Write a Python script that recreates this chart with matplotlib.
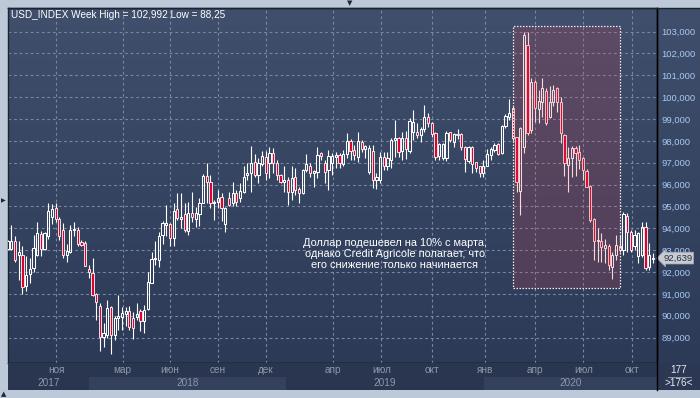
import numpy as np
import matplotlib
matplotlib.use('Agg')
import matplotlib.pyplot as plt
from matplotlib.colors import LinearSegmentedColormap
from matplotlib.patches import Rectangle
from matplotlib.lines import Line2D
import matplotlib.transforms as mtransforms

# weekly USD index candles (open, high, low, close)
opens = [93.05, 93.04, 93.44, 92.80, 92.80, 91.35, 91.90, 92.17, 92.80, 93.75,
         93.04, 93.67, 94.50, 94.92, 94.43, 93.93, 92.80, 92.90, 93.92, 93.93,
         93.36, 93.32, 92.15, 91.95, 90.98, 90.45, 89.05, 89.10, 90.42, 89.10,
         89.90, 89.96, 90.07, 90.22, 89.90, 89.93, 90.22, 89.74, 90.30, 91.52,
         92.58, 92.56, 93.70, 94.17, 94.19, 93.58, 94.87, 94.45, 94.65, 93.90,
         94.72, 94.42, 94.64, 95.18, 96.40, 96.14, 95.15, 95.20, 95.42, 94.20,
         95.38, 95.18, 95.60, 95.38, 95.64, 96.45, 96.52, 97.05, 96.45, 96.95,
         97.28, 97.00, 97.44, 96.98, 96.45, 96.10, 96.22, 95.68, 96.34, 95.79,
         95.60, 96.67, 96.86, 96.55, 96.60, 97.43, 97.00, 96.67, 97.00, 97.25,
         97.36, 96.95, 97.40, 98.01, 97.59, 97.28, 97.97, 97.62, 96.60, 97.54,
         96.22, 96.22, 97.28, 96.83, 97.13, 98.02, 98.12, 97.54, 98.12, 97.54,
         98.43, 98.43, 98.27, 98.55, 99.11, 98.81, 98.35, 97.31, 97.22, 97.24,
         98.40, 97.97, 98.30, 98.30, 97.70, 97.10, 97.73, 97.03, 96.83, 96.52,
         96.86, 97.36, 97.60, 97.85, 97.44, 98.69, 99.10, 99.49, 98.20, 95.72,
         97.74, 102.39, 98.50, 100.70, 99.45, 99.80, 100.30, 99.11, 99.80, 100.41,
         99.80, 98.27, 96.90, 97.20, 97.66, 97.47, 97.20, 96.64, 95.94, 94.43,
         93.40, 93.40, 93.10, 93.17, 92.25, 92.80, 93.17, 93.02, 94.58, 93.85,
         93.17, 92.74, 92.78, 94.04, 92.22, 92.60]
highs = [93.45, 94.16, 93.66, 93.40, 93.20, 92.74, 92.63, 93.70, 94.28, 93.90,
         93.82, 95.15, 95.10, 95.15, 94.50, 94.23, 93.30, 94.16, 94.27, 94.08,
         93.47, 93.40, 92.33, 92.63, 91.03, 90.60, 89.66, 90.73, 90.45, 89.97,
         90.95, 90.42, 90.42, 90.47, 90.19, 90.57, 90.30, 90.50, 91.99, 92.90,
         93.44, 93.82, 94.34, 95.07, 94.23, 95.18, 95.60, 95.60, 95.15, 95.22,
         95.65, 94.99, 95.38, 96.49, 96.98, 96.45, 95.30, 95.76, 95.60, 94.99,
         95.68, 96.14, 95.76, 96.06, 96.86, 97.00, 97.77, 97.40, 97.20, 97.56,
         97.56, 97.74, 97.67, 97.13, 96.50, 96.86, 96.37, 96.83, 96.75, 95.90,
         96.72, 97.40, 97.00, 96.67, 97.74, 97.50, 97.13, 97.59, 97.43, 97.51,
         97.43, 97.59, 98.38, 98.07, 97.82, 98.43, 98.05, 97.82, 97.82, 97.82,
         96.55, 97.51, 97.51, 97.51, 98.12, 98.96, 98.20, 98.43, 98.46, 99.04,
         99.42, 98.81, 98.63, 99.65, 99.27, 98.88, 98.43, 97.92, 97.92, 98.45,
         98.43, 98.35, 98.53, 98.35, 97.77, 97.77, 97.77, 97.05, 96.85, 97.13,
         97.62, 97.70, 97.90, 97.90, 98.73, 99.22, 99.90, 99.60, 98.20, 98.65,
         102.99, 102.99, 100.87, 100.79, 100.33, 100.90, 100.41, 100.49, 100.56, 100.46,
         100.00, 98.30, 97.74, 97.77, 97.77, 97.81, 97.28, 96.70, 95.98, 94.48,
         94.01, 93.78, 93.50, 93.30, 92.94, 93.70, 93.70, 94.77, 94.69, 93.93,
         93.93, 93.85, 94.31, 94.31, 93.32, 92.86]
lows = [93.00, 93.00, 92.48, 91.64, 91.00, 91.14, 91.52, 92.02, 92.74, 92.74,
        93.01, 93.50, 94.20, 94.28, 93.47, 92.63, 92.48, 92.85, 93.65, 93.17,
        93.17, 92.26, 91.75, 90.90, 89.80, 88.41, 88.55, 88.97, 88.25, 88.87,
        89.36, 89.35, 89.55, 89.35, 88.93, 89.81, 89.31, 89.20, 90.27, 91.49,
        92.33, 92.22, 93.27, 93.65, 93.17, 93.17, 94.39, 94.00, 93.85, 93.70,
        94.31, 94.05, 94.13, 95.15, 95.15, 94.92, 94.40, 94.95, 94.34, 93.85,
        95.00, 95.03, 95.00, 95.22, 95.60, 96.22, 95.68, 96.37, 96.06, 96.83,
        96.20, 96.29, 96.52, 96.22, 96.06, 95.68, 95.07, 95.30, 95.53, 95.15,
        95.57, 96.60, 96.37, 95.91, 96.30, 97.13, 96.06, 95.76, 96.44, 96.75,
        96.75, 96.83, 97.20, 97.13, 97.13, 97.05, 97.51, 97.20, 96.50, 95.84,
        95.80, 96.06, 96.67, 96.67, 96.75, 97.28, 97.28, 97.13, 97.16, 97.44,
        98.05, 98.12, 97.97, 98.43, 98.63, 98.20, 97.13, 97.13, 97.13, 97.10,
        97.97, 97.70, 98.07, 97.60, 96.60, 96.98, 96.55, 96.60, 96.37, 96.37,
        96.83, 97.13, 97.50, 97.36, 97.41, 98.58, 98.96, 98.00, 95.68, 94.61,
        97.44, 98.28, 98.35, 98.88, 98.84, 99.11, 98.73, 99.04, 99.60, 99.34,
        97.92, 96.40, 95.68, 96.34, 96.40, 96.70, 96.22, 95.88, 94.31, 92.55,
        92.48, 92.48, 92.40, 92.10, 91.70, 92.56, 92.94, 92.80, 92.94, 92.94,
        93.02, 92.40, 92.71, 92.10, 92.10, 92.40]
closes = [93.40, 93.44, 92.56, 92.90, 91.30, 91.87, 92.13, 93.09, 93.80, 93.04,
          93.77, 94.81, 94.90, 94.43, 93.67, 92.76, 92.95, 93.93, 93.97, 93.29,
          93.24, 92.30, 92.02, 90.95, 90.65, 89.02, 89.20, 90.34, 89.10, 89.92,
          90.00, 90.12, 90.22, 89.47, 89.43, 90.08, 89.74, 90.27, 91.54, 92.60,
          92.65, 93.65, 94.23, 94.23, 93.55, 94.80, 94.49, 94.52, 93.93, 94.69,
          94.54, 94.72, 95.18, 96.40, 96.11, 95.15, 95.22, 95.38, 94.92, 94.95,
          95.07, 95.60, 95.22, 95.71, 96.37, 96.55, 96.98, 96.45, 96.98, 97.31,
          96.52, 97.44, 96.98, 96.45, 96.10, 96.22, 95.68, 96.29, 95.76, 95.60,
          96.67, 96.93, 96.52, 96.62, 97.36, 97.31, 96.60, 97.31, 97.33, 97.35,
          96.98, 97.40, 98.01, 97.54, 97.36, 98.01, 97.62, 97.75, 97.66, 96.22,
          96.35, 97.28, 96.83, 97.20, 98.05, 98.12, 97.47, 98.12, 97.62, 98.93,
          98.88, 98.27, 98.53, 99.11, 98.81, 98.30, 97.28, 97.86, 97.85, 98.38,
          98.05, 98.30, 98.28, 97.70, 97.16, 97.74, 96.95, 96.75, 96.52, 96.86,
          97.39, 97.63, 97.82, 97.39, 98.70, 99.14, 99.26, 98.12, 96.10, 98.58,
          102.85, 98.35, 100.70, 99.50, 99.84, 100.41, 98.81, 99.80, 100.33, 99.80,
          98.35, 96.98, 97.20, 97.66, 97.44, 97.13, 96.67, 95.91, 94.39, 93.40,
          93.47, 93.13, 93.22, 92.33, 92.80, 93.24, 93.02, 94.66, 93.85, 93.02,
          93.70, 93.78, 94.08, 92.17, 92.78, 92.639]

# time axis: month ticks (bar positions), year starts
month_labels = ['ноя', 'мар', 'июн', 'сен', 'дек', 'апр', 'июл', 'окт',
                'янв', 'апр', 'июл', 'окт']
month_pos = [13.1, 31.2, 44.0, 57.0, 70.1, 88.1, 101.3, 115.0,
             129.4, 143.0, 156.1, 169.3]
year_labels = ['2017', '2018', '2019', '2020']
year_start = [-0.1, 22.1, 75.6, 129.1]

price_ticks = list(range(89, 104))
last_price = 92.639

W, H = 700, 398


def px(l, t, r, b):
    return [l / W, 1 - b / H, (r - l) / W, (b - t) / H]


fig = plt.figure(figsize=(7, 3.98), dpi=100, facecolor='#bdc9d9')

grad = LinearSegmentedColormap.from_list('bg', ['#3f4f6c', '#2c3a57'])
gimg = np.linspace(0, 1, 256).reshape(-1, 1)

# right price panel
rax = fig.add_axes(px(657, 8, 700, 363), zorder=0)
rax.imshow(gimg, cmap=grad, extent=[0, 1, 0, 1], aspect='auto')
rax.set_xlim(0, 1)
rax.set_ylim(0, 1)
rax.axis('off')

# main chart
ax = fig.add_axes(px(8, 8, 657, 363), zorder=1)
ax.imshow(gimg, cmap=grad, extent=[0, 1, 0, 1], aspect='auto',
          transform=ax.transAxes, zorder=0)

x = np.arange(len(opens))
o = np.array(opens)
c = np.array(closes)
hi = np.maximum(np.array(highs), np.maximum(o, c))
lo = np.minimum(np.array(lows), np.minimum(o, c))
top = np.maximum(o, c)
bot = np.minimum(o, c)
up = c >= o

ax.vlines(x, top, hi, color='white', lw=0.8, zorder=3)
ax.vlines(x, lo, bot, color='white', lw=0.8, zorder=3)
body = np.maximum(top - bot, 0.05)
ax.bar(x[up], body[up], bottom=bot[up], width=0.6, color='none',
       edgecolor='white', linewidth=0.75, zorder=4)
ax.bar(x[~up], body[~up], bottom=bot[~up], width=0.6, color='#e0002c',
       edgecolor='white', linewidth=0.6, zorder=4)

# highlighted region
ax.add_patch(Rectangle((137, 91.27), 29, 11.99, facecolor=(0.85, 0.25, 0.3, 0.2),
                       edgecolor='#f2e8ee', linestyle=(0, (1.2, 1.2)), lw=0.9, zorder=5))

ax.set_xlim(0.08, 176.1)
ax.set_ylim(87.84, 104.08)

ax.set_yticks(price_ticks)
ax.set_yticklabels([f'{v:.3f}'.replace('.', ',') for v in price_ticks])
ax.yaxis.tick_right()
ax.tick_params(axis='y', length=0, pad=3, labelsize=6.8, labelcolor='#a9c9f2')
ax.set_xticks(month_pos)
ax.tick_params(axis='x', length=0, labelbottom=False)
ax.grid(True, color='#7886a2', lw=0.8, linestyle=(0, (2.5, 2.5)), zorder=1)
for s in ['top', 'left']:
    ax.spines[s].set_color('#1c2230')
for s in ['bottom', 'right']:
    ax.spines[s].set_color('black')
for s in ax.spines.values():
    s.set_linewidth(1.0)
for t in ax.get_yticklabels():
    t.set_family('Liberation Sans')

ax.text(3 / 649, 1 - 7 / 355, 'USD_INDEX Week High = 102,992 Low = 88,25',
        transform=ax.transAxes, ha='left', va='center', color='white',
        fontsize=7.2, family='Liberation Sans', zorder=6)

ax.text(105, 92.83, 'Доллар подешевел на 10% с марта,\n'
        'однако Credit Agricole полагает, что\n'
        'его снижение только начинается',
        ha='center', va='center', multialignment='center', color='white',
        fontsize=7.9, family='Liberation Sans', linespacing=1.12, zorder=6)

# last price tag
tr = mtransforms.blended_transform_factory(ax.transAxes, ax.transData)
ax.text(1 + 6 / 649, last_price, f'{last_price:.3f}'.replace('.', ','),
        transform=tr, ha='left', va='center', fontsize=6.8, color='#27303f',
        family='Liberation Sans', clip_on=False, zorder=7,
        bbox=dict(boxstyle='larrow,pad=0.15', fc='#c8ccd2', ec='#9aa0aa', lw=0.5))

# time axis
tax = fig.add_axes(px(8, 363, 657, 390), zorder=1)
tax.set_facecolor('#2a3550')
tax.set_xlim(ax.get_xlim())
tax.set_ylim(0, 1)
ends = year_start[1:] + [ax.get_xlim()[1]]
for i, (a, b) in enumerate(zip(year_start, ends)):
    if i % 2 == 1:
        tax.axvspan(a, b, ymin=0, ymax=0.5, color='#34415c', lw=0)
    tax.text((max(a, ax.get_xlim()[0]) + b) / 2, 0.26, year_labels[i],
             ha='center', va='center', color='#8c98ac', fontsize=7.2,
             family='Liberation Sans')
for m, p in zip(month_labels, month_pos):
    tax.text(p, 0.73, m, ha='center', va='center', color='#8c98ac',
             fontsize=7.2, family='Liberation Sans')
tax.set_xticks([])
tax.set_yticks([])
for s in tax.spines.values():
    s.set_visible(False)

# bar counter box
cax = fig.add_axes(px(657, 363, 700, 390), zorder=1)
cax.set_facecolor('#2c3853')
cax.set_xlim(0, 1)
cax.set_ylim(0, 1)
cax.set_xticks([])
cax.set_yticks([])
for s in cax.spines.values():
    s.set_visible(False)
cax.text(0.5, 0.74, '177', ha='center', va='center', color='#e6ebf2',
         fontsize=7.2, family='Liberation Sans')
cax.plot([0.25, 0.78], [0.5, 0.5], color='#9aa6ba', lw=0.6)
cax.text(0.5, 0.26, '>176<', ha='center', va='center', color='#e6ebf2',
         fontsize=7.2, family='Liberation Sans')

# frame lines
fig.add_artist(Line2D([657 / W, 657 / W], [1 - 390 / H, 1 - 8 / H],
                      color='black', lw=1.0, transform=fig.transFigure))
fig.add_artist(Line2D([8 / W, 1], [1 - 8 / H, 1 - 8 / H],
                      color='#1c2230', lw=1.0, transform=fig.transFigure))

# small window controls around the frame
fig.text(350 / W, 1 - 3 / H, '▼', ha='center', va='center', fontsize=5,
         color='#1e2533')
fig.text(3 / W, 1 - 201 / H, '▶', ha='center', va='center', fontsize=4.5,
         color='#1e2533')
fig.text(4 / W, 1 - 394 / H, '▲', ha='center', va='center', fontsize=5,
         color='#1e2533')

fig.savefig('out.png', dpi=100, facecolor=fig.get_facecolor())
